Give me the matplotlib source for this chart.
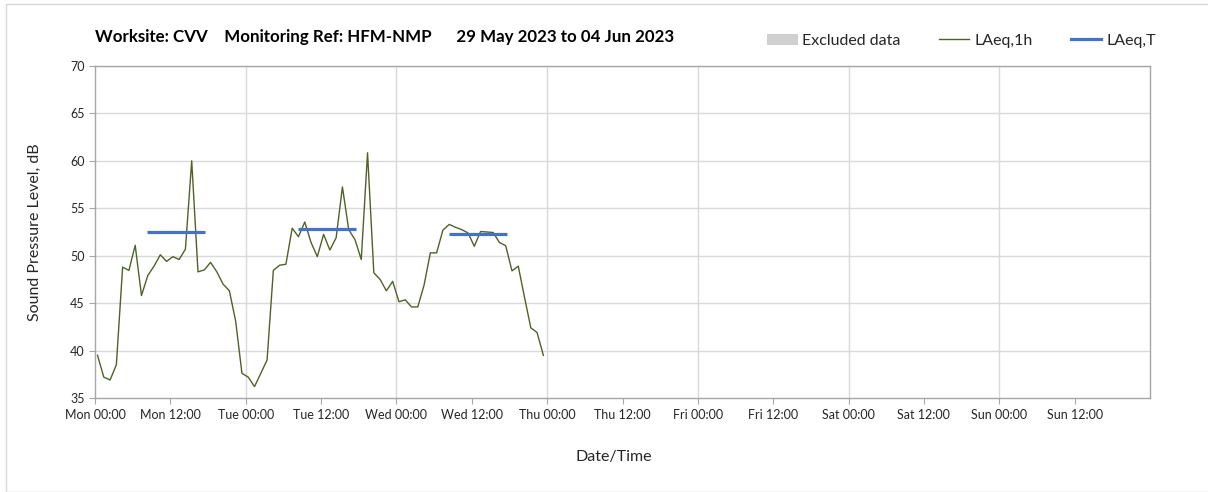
import numpy as np
import pandas as pd
import matplotlib
matplotlib.use('Agg')
import matplotlib.pyplot as plt
from matplotlib.lines import Line2D
from matplotlib.patches import Patch, Rectangle

plt.rcParams['font.family'] = ['Lato', 'DejaVu Sans']

# hourly LAeq,1h values, 29 May 2023 00:00 -> 31 May 2023 23:00
laeq_1h = [39.5, 37.2, 36.9, 38.5, 48.8, 48.45, 51.1, 45.8, 47.9, 48.9, 50.1, 49.4,
           49.9, 49.6, 50.7, 60.0, 48.3, 48.5, 49.3, 48.3, 47.0, 46.3, 43.1, 37.6,
           37.2, 36.2, 37.6, 39.0, 48.45, 49.0, 49.1, 52.9, 52.0, 53.55, 51.4, 49.9,
           52.25, 50.6, 51.9, 57.25, 52.75, 51.7, 49.6, 60.85, 48.2, 47.5, 46.3, 47.3,
           45.15, 45.35, 44.6, 44.6, 46.9, 50.3, 50.3, 52.7, 53.3, 53.0, 52.75, 52.4,
           51.0, 52.55, 52.5, 52.45, 51.4, 51.05, 48.4, 48.9, 45.6, 42.4, 41.9, 39.5]
times = pd.date_range('2023-05-29 00:24', periods=len(laeq_1h), freq='h')
t0 = pd.Timestamp('2023-05-29 00:00')
hours = (times - t0) / pd.Timedelta(hours=1)

# LAeq,T daytime periods (start hour, end hour, level)
period_start = [8.25, 32.3, 56.3]
period_end = [17.5, 41.5, 65.6]
laeq_t = [52.55, 52.85, 52.3]

days = ['Mon', 'Tue', 'Wed', 'Thu', 'Fri', 'Sat', 'Sun']
tick_labels = [f'{d} {h}' for d in days for h in ['00:00', '12:00']]

title = 'Worksite: CVV    Monitoring Ref: HFM-NMP      29 May 2023 to 04 Jun 2023'

green = '#4f6228'
blue = '#4472c4'
grid_c = '#d9d9d9'
spine_c = '#a6a6a6'
text_c = '#262626'

fig = plt.figure(figsize=(12.08, 4.92), dpi=100)
ax = fig.add_axes([95/1208, 1-398/492, (1150-95)/1208, (398-66)/492])

ax.plot(hours, laeq_1h, color=green, lw=1.0, zorder=3)
for s, e, v in zip(period_start, period_end, laeq_t):
    ax.plot([s, e], [v, v], color=blue, lw=2.3, zorder=4, solid_capstyle='butt')

ax.set_xlim(0, 168)
ax.set_ylim(35, 70)
ax.set_xticks(np.arange(0, 168, 12))
ax.set_xticklabels(tick_labels, fontsize=9, color=text_c)
ax.set_yticks(np.arange(35, 71, 5))
ax.tick_params(axis='y', labelsize=9, labelcolor=text_c, length=4, color=spine_c)
ax.tick_params(axis='x', length=4, color=spine_c, pad=4)
ax.set_yticklabels([str(v) for v in range(35, 71, 5)])

for y in range(40, 71, 5):
    ax.axhline(y, color=grid_c, lw=1.0, zorder=1)
for x in range(24, 168, 24):
    ax.axvline(x, color=grid_c, lw=1.0, zorder=1)
for sp in ax.spines.values():
    sp.set_color(spine_c)
    sp.set_linewidth(1.0)

fig.text(35/1208, 1-232/492, 'Sound Pressure Level, dB', fontsize=11.5, color=text_c,
         rotation=90, ha='center', va='center')
fig.text(614/1208, 1-457/492, 'Date/Time', fontsize=11.5, color=text_c,
         ha='center', va='center')
fig.text(95/1208, 1-37/492, title, fontsize=12.2, weight='bold', color='#000000',
         ha='left', va='center')

handles = [Patch(facecolor='#d0d0d0', edgecolor='none'),
           Line2D([], [], color=green, lw=1.0),
           Line2D([], [], color=blue, lw=2.3)]
fig.legend(handles, ['Excluded data', 'LAeq,1h', 'LAeq,T'], loc='center right',
           bbox_to_anchor=(1170/1208, 1-41/492), ncol=3, frameon=False,
           fontsize=11.5, handlelength=1.9, handletextpad=0.3, columnspacing=2.4,
           labelcolor=text_c)

fig.add_artist(Rectangle((6/1208, 0), 1.0, 1-4/492, transform=fig.transFigure,
                         fill=False, edgecolor='#d9d9d9', lw=1.0))

fig.savefig('out.png', dpi=100)
